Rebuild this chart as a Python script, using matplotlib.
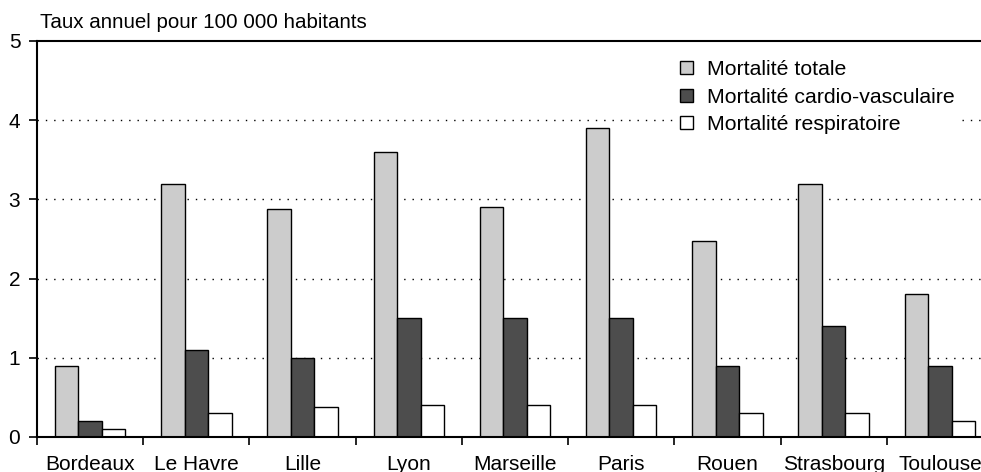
import matplotlib
matplotlib.use("Agg")
import matplotlib.pyplot as plt
import numpy as np

villes = ["Bordeaux", "Le Havre", "Lille", "Lyon", "Marseille", "Paris", "Rouen", "Strasbourg", "Toulouse"]
totale = [0.9, 3.2, 2.88, 3.6, 2.9, 3.9, 2.48, 3.2, 1.8]
cardio = [0.2, 1.1, 1.0, 1.5, 1.5, 1.5, 0.9, 1.4, 0.9]
respi = [0.1, 0.3, 0.38, 0.4, 0.4, 0.4, 0.3, 0.3, 0.2]
series = ["Mortalité totale", "Mortalité cardio-vasculaire", "Mortalité respiratoire"]

plt.rcParams['font.family'] = ['Liberation Sans', 'DejaVu Sans']

fig = plt.figure(figsize=(9.81, 4.72), dpi=100)
ax = fig.add_axes([37/981, 35/472, 956/981, 396/472])

x = np.arange(len(villes))
w = 0.221
couleurs = ["#cccccc", "#4d4d4d", "#ffffff"]
for i, (vals, lab) in enumerate(zip([totale, cardio, respi], series)):
    ax.bar(x + (i - 1) * w, vals, w, color=couleurs[i], edgecolor="black",
           linewidth=1, label=lab, zorder=3)

ax.set_xlim(-0.5, len(villes) - 0.5)
ax.set_ylim(0, 5)
ax.set_yticks([0, 1, 2, 3, 4, 5])
ax.set_xticks(x)
ax.set_xticklabels(villes)
ax.set_xticks(np.arange(len(villes) + 1) - 0.5, minor=True)
ax.tick_params(axis="x", which="major", length=0, pad=13, labelsize=15)
ax.tick_params(axis="x", which="minor", length=6, width=1.2)
ax.tick_params(axis="y", length=6, width=1.2, labelsize=15, pad=6)

for yv in [1, 2, 3, 4]:
    ax.axhline(yv, color="black", linewidth=1, linestyle=(0, (1, 5)), zorder=1)

for s in ["left", "bottom", "top"]:
    ax.spines[s].set_linewidth(1.5)
    ax.spines[s].set_zorder(4)
ax.spines["right"].set_visible(False)

fig.text(40/981, 1 - 28/472, "Taux annuel pour 100 000 habitants", fontsize=14.8, va="baseline")

leg = ax.legend(loc="upper left", bbox_to_anchor=(676/981, 1 - 56/472),
                bbox_transform=fig.transFigure, frameon=True, fontsize=15.3,
                handlelength=0.58, handleheight=0.58, handletextpad=0.7,
                labelspacing=0.4, borderaxespad=0, borderpad=0.2)
leg.get_frame().set_edgecolor("white")
leg.get_frame().set_facecolor("white")
leg.get_frame().set_alpha(1)
leg.set_zorder(5)

fig.savefig("out.png", dpi=100)
